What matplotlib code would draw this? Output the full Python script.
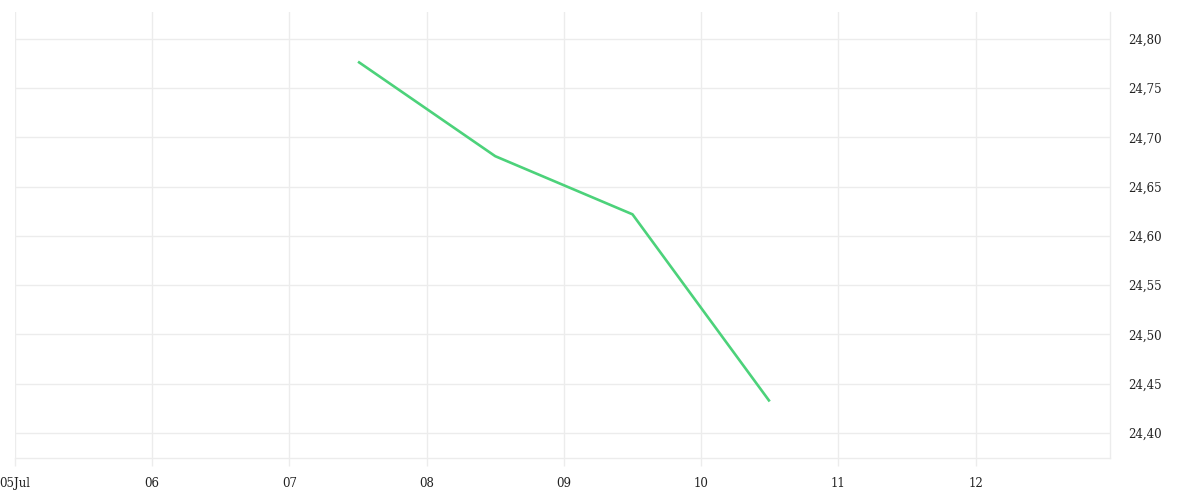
import datetime as dt
import matplotlib
matplotlib.use("Agg")
import matplotlib.pyplot as plt
import matplotlib.dates as mdates
from matplotlib.ticker import FuncFormatter

# data (values at midday)
dates = [dt.datetime(2024, 7, 7, 12), dt.datetime(2024, 7, 8, 12),
         dt.datetime(2024, 7, 9, 12), dt.datetime(2024, 7, 10, 12)]
values = [24.777, 24.681, 24.622, 24.432]

tick_days = [dt.datetime(2024, 7, d) for d in range(5, 13)]
tick_labels = ["05Jul", "06", "07", "08", "09", "10", "11", "12"]
y_ticks = [24.40, 24.45, 24.50, 24.55, 24.60, 24.65, 24.70, 24.75, 24.80]

grid_col = "#ececec"
plt.rcParams["font.family"] = ["DejaVu Serif"]

fig = plt.figure(figsize=(12, 5), dpi=100)
ax = fig.add_axes([0.0125, 0.084, 0.9125, 0.892])

ax.plot(dates, values, color="#4cd27a", lw=1.9, solid_capstyle="butt", zorder=3)

ax.set_xlim(dt.datetime(2024, 7, 5), dt.datetime(2024, 7, 5) + dt.timedelta(days=7.98))
ax.set_ylim(24.3746, 24.8274)

ax.set_xticks(mdates.date2num(tick_days))
ax.set_xticklabels(tick_labels)
ax.set_yticks(y_ticks)
ax.yaxis.set_major_formatter(FuncFormatter(lambda v, p: f"{v:.2f}".replace(".", ",")))
ax.yaxis.tick_right()

ax.grid(True, color=grid_col, lw=1)
for s in ["top", "left"]:
    ax.spines[s].set_visible(False)
for s in ["bottom", "right"]:
    ax.spines[s].set_color(grid_col)
    ax.spines[s].set_linewidth(1)

ax.tick_params(axis="x", length=6, width=1, color=grid_col, labelsize=8.5,
               labelcolor="#222222", pad=8)
ax.tick_params(axis="y", length=0, labelsize=8.5, labelcolor="#222222", pad=13)

fig.savefig("out.png", dpi=100)
